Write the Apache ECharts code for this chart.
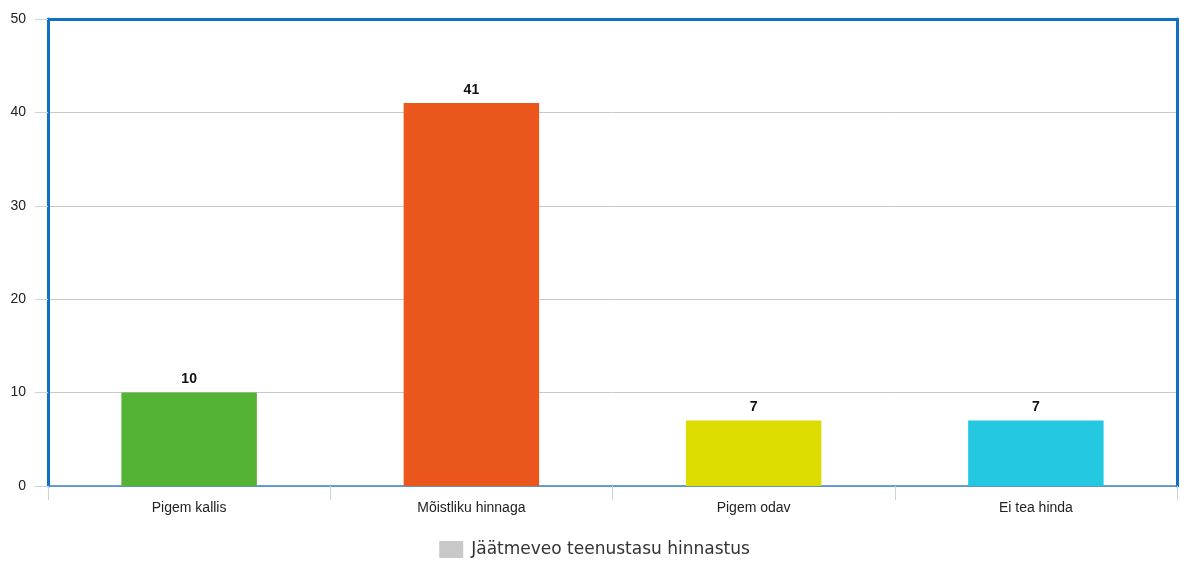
<!DOCTYPE html>
<html><head><meta charset="utf-8">
<script src="https://cdn.jsdelivr.net/npm/echarts@6/dist/echarts.min.js"></script>
<style>html,body{margin:0;padding:0;background:#fff}#c{width:1189px;height:566px}</style>
</head><body><div id="c"></div>
<script>
const categories = ['Pigem kallis', 'Mõistliku hinnaga', 'Pigem odav', 'Ei tea hinda'];
const values = [10, 41, 7, 7];
const barColors = ['#54b234', '#eb561d', '#dcdc00', '#24c8e0'];
const seriesName = 'Jäätmeveo teenustasu hinnastus';
const yTicks = { min: 0, max: 50, interval: 10 };

const frameBlue = '#1170c6';
const chart = echarts.init(document.getElementById('c'));
chart.setOption({
  animation: false,
  grid: { left: 48, right: 12, top: 19, bottom: 80 },
  legend: {
    bottom: 3, left: 'center',
    itemWidth: 24, itemHeight: 17, itemGap: 10,
    icon: 'rect',
    textStyle: { fontFamily: 'DejaVu Sans', fontSize: 17, color: '#333', padding: [0, 0, 0, 3] },
    data: [seriesName]
  },
  xAxis: [{
    type: 'category', data: categories, position: 'bottom',
    axisLine: { show: true, onZero: false, lineStyle: { color: '#3b82c8', width: 1.5 } },
    axisTick: { show: true, length: 14, lineStyle: { color: '#c8d2dc' } },
    axisLabel: { margin: 15, fontFamily: 'Liberation Sans', fontSize: 14, color: '#222' }
  }, {
    type: 'category', data: categories, position: 'top',
    axisLine: { show: true, onZero: false, lineStyle: { color: frameBlue, width: 3 } },
    axisTick: { show: false }, axisLabel: { show: false }
  }],
  yAxis: [{
    type: 'value', min: yTicks.min, max: yTicks.max, interval: yTicks.interval,
    axisLine: { show: true, onZero: false, lineStyle: { color: frameBlue, width: 3 } },
    axisTick: { show: true, length: 13, lineStyle: { color: '#c8d4e0' } },
    axisLabel: { margin: 22, fontFamily: 'Liberation Sans', fontSize: 14, color: '#222' },
    splitLine: { lineStyle: { color: '#c8c8c8', width: 1 } }
  }, {
    type: 'value', min: yTicks.min, max: yTicks.max, interval: yTicks.interval, position: 'right',
    axisLine: { show: true, onZero: false, lineStyle: { color: frameBlue, width: 3 } },
    axisTick: { show: false }, axisLabel: { show: false }, splitLine: { show: false }
  }],
  series: [{
    name: seriesName, type: 'bar', barWidth: '48%',
    xAxisIndex: 0, yAxisIndex: 0,
    itemStyle: { color: '#c8c8c8' },
    label: { show: true, position: 'top', distance: 6, fontFamily: 'Liberation Sans', fontSize: 14, fontWeight: 'bold', color: '#111' },
    data: values.map((v, i) => ({ value: v, itemStyle: { color: barColors[i] } }))
  }]
});
</script></body></html>
